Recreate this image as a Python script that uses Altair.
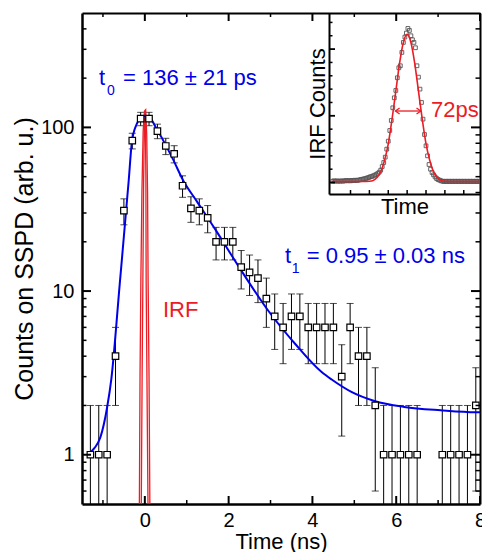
import altair as alt
import pandas as pd

# ---------------- main panel data ----------------
time_ns = [-1.3, -1.1, -0.9, -0.7, -0.5, -0.3, -0.1, 0.1, 0.3, 0.5,
           0.7, 0.9, 1.1, 1.3, 1.5, 1.7, 1.9, 2.1, 2.3, 2.5,
           2.7, 2.9, 3.1, 3.3, 3.5, 3.7, 3.9, 4.1, 4.3, 4.5,
           4.7, 4.9, 5.1, 5.3, 5.5, 5.7, 5.9, 6.1, 6.3, 6.5,
           7.1, 7.3, 7.5, 7.7, 7.9]
counts = [1, 1, 1, 4, 31, 83, 113, 113, 95, 77,
          69, 44, 32, 31, 28, 20, 20, 20, 14, 13,
          12, 9, 7, 6, 7, 7, 6, 6, 6, 6,
          3, 6, 4, 4, 2, 1, 1, 1, 1, 1,
          1, 1, 1, 1, 2]
count_err = [1, 1, 1, 2, 5.6, 9.1, 10.6, 10.6, 9.7, 8.8,
             8.3, 6.6, 5.7, 5.6, 5.3, 4.5, 4.5, 4.5, 3.7, 3.6,
             3.5, 3.0, 2.6, 2.4, 2.6, 2.6, 2.4, 2.4, 2.4, 2.4,
             1.7, 2.4, 2.0, 2.0, 1.4, 1, 1, 1, 1, 1,
             1, 1, 1, 1, 1.4]

fit_t = [-1.29, -1.2, -1.06, -0.9, -0.8, -0.6, -0.385, -0.31, -0.2, -0.1,
         0.0, 0.087, 0.28, 0.48, 0.67, 0.915, 1.23, 1.7, 2.25, 2.96,
         3.59, 4.22, 4.46, 4.93, 5.48, 6.19, 7.06, 7.9, 8.0]
fit_counts = [1.04, 1.1, 1.28, 1.95, 2.9, 11, 47.4, 81, 104, 114,
              118, 117, 98, 79.6, 64, 47.4, 35.7, 23.4, 14, 7.5,
              4.75, 3.2, 2.88, 2.42, 2.13, 1.96, 1.87, 1.82, 1.82]

irf_a_t = [-0.13, -0.115, -0.095, -0.07, -0.04, -0.01, 0.02, 0.045, 0.065, 0.078, 0.10, 0.12]
irf_a_v = [0.5, 3, 11.6, 40, 95, 125, 128, 90, 40, 11.6, 3, 0.5]
irf_b_t = [-0.085, -0.065, -0.047, -0.03, -0.01, 0.01, 0.025, 0.031, 0.05, 0.075]
irf_b_v = [0.5, 3, 11.6, 45, 110, 128, 50, 11.6, 3, 0.5]

y_major = [1, 10, 100]
y_minor = [0.6, 0.7, 0.8, 0.9, 2, 3, 4, 5, 6, 7, 8, 9,
           20, 30, 40, 50, 60, 70, 80, 90, 200, 300, 400]
x_major = [0, 2, 4, 6, 8]
x_minor = [-1, 1, 3, 5, 7]

# ---------------- inset data ----------------
inset_t = list(range(-198, 199, 4))
inset_counts = [0.02, 0.025, 0.02, 0.025, 0.02, 0.02, 0.025, 0.02, 0.025, 0.03,
                0.025, 0.03, 0.025, 0.03, 0.03, 0.035, 0.03, 0.035,
                0.04, 0.045, 0.05, 0.055, 0.06, 0.068, 0.075, 0.085, 0.09, 0.10,
                0.11, 0.12, 0.135, 0.155, 0.185, 0.24, 0.30, 0.38, 0.50, 0.62,
                0.78, 0.93, 1.12, 1.27, 1.38, 1.57, 1.72, 1.75, 1.95, 2.10,
                2.18, 2.24, 2.31, 2.28, 2.20, 2.14, 2.10, 2.02, 1.75, 1.58,
                1.40, 1.20, 0.95, 0.72, 0.55, 0.40, 0.27, 0.20, 0.15, 0.115,
                0.085, 0.06, 0.045, 0.035, 0.025, 0.02,
                0.015, 0.02, 0.015, 0.02, 0.015, 0.02, 0.015, 0.02, 0.015, 0.02,
                0.015, 0.02, 0.015, 0.02, 0.015, 0.02, 0.015, 0.02, 0.015, 0.02,
                0.015, 0.02, 0.015, 0.02, 0.015, 0.02]
inset_fit_t = [-200, -150, -120, -100, -90, -80, -70, -60, -50, -40, -30, -20, -10, 0,
               10, 20, 30, 40, 50, 60, 70, 80, 90, 100, 120, 150, 200]
inset_fit_v = [0.015, 0.015, 0.016, 0.02, 0.03, 0.075, 0.16, 0.33, 0.58, 0.95, 1.37, 1.79, 2.10, 2.22,
               2.10, 1.79, 1.37, 0.95, 0.58, 0.33, 0.16, 0.075, 0.03, 0.02, 0.016, 0.015, 0.015]
inset_x_ticks = [-150, -100, -50, 0, 50, 100, 150]
inset_y_major = [0, 1, 2]
inset_y_minor = [0.2, 0.4, 0.6, 0.8, 1.2, 1.4, 1.6, 1.8, 2.2, 2.4]

# ---------------- layout ----------------
PAD_L, PAD_T, PAD_R, PAD_B = 74, 5, 2, 48
W, H = 398, 491
FONT = "Liberation Sans"
BLUE = "#0000e8"
RED = "#ec1c24"
INSET_X = [247, 398]
INSET_Y = [181, 0]

xs = alt.Scale(domain=[-1.5, 8], nice=False, zero=False)
ys = alt.Scale(type="log", domain=[0.5, 500], nice=False)

df = pd.DataFrame({"t": time_ns, "n": counts, "err": count_err})
df["lo"] = (df["n"] - df["err"]).clip(lower=0.3)
df["hi"] = df["n"] + df["err"]

fit_df = pd.DataFrame({"t": fit_t, "v": fit_counts})
irf_df = pd.concat([
    pd.DataFrame({"t": irf_a_t, "v": irf_a_v, "c": "a"}),
    pd.DataFrame({"t": irf_b_t, "v": irf_b_v, "c": "b"}),
])


def border_axis(orient, offset):
    return alt.Axis(orient=orient, offset=offset, labels=False, title=None,
                    ticks=False, domain=True, domainWidth=2, domainColor="black",
                    grid=False)


def xticks(values, scale, y0, y1, width):
    return alt.Chart(pd.DataFrame({"v": values})).mark_rule(
        color="black", strokeWidth=width).encode(
        x=alt.X("v:Q", scale=scale, axis=None), y=alt.value(y0), y2=alt.value(y1))


def yticks(values, scale, x0, x1, width):
    return alt.Chart(pd.DataFrame({"v": values})).mark_rule(
        color="black", strokeWidth=width).encode(
        y=alt.Y("v:Q", scale=scale, axis=None), x=alt.value(x0), x2=alt.value(x1))


bars = alt.Chart(df).mark_rule(color="black", strokeWidth=1, clip=True).encode(
    x=alt.X("t:Q", scale=xs, axis=None),
    y=alt.Y("lo:Q", scale=ys, axis=None),
    y2="hi:Q",
)
cap_hi = alt.Chart(df).mark_tick(color="black", orient="horizontal", size=7,
                                 thickness=1, clip=True).encode(
    x=alt.X("t:Q", scale=xs, axis=None), y=alt.Y("hi:Q", scale=ys, axis=None))
cap_lo = alt.Chart(df).mark_tick(color="black", orient="horizontal", size=7,
                                 thickness=1, clip=True).encode(
    x=alt.X("t:Q", scale=xs, axis=None), y=alt.Y("lo:Q", scale=ys, axis=None))

irf = alt.Chart(irf_df).mark_line(color=RED, strokeWidth=1.3, clip=True).encode(
    x=alt.X("t:Q", scale=xs, axis=None),
    y=alt.Y("v:Q", scale=ys, axis=None),
    detail="c:N",
)

fit = alt.Chart(fit_df).mark_line(color=BLUE, strokeWidth=2, interpolate="monotone",
                                  clip=True).encode(
    x=alt.X("t:Q", scale=xs, axis=None),
    y=alt.Y("v:Q", scale=ys, axis=None),
)

squares = alt.Chart(df).mark_point(shape="square", filled=True, fill="white",
                                   stroke="black", strokeWidth=1.2, size=42,
                                   opacity=1, clip=True).encode(
    x=alt.X("t:Q", scale=xs, axis=alt.Axis(
        orient="bottom", values=x_major, ticks=False, domain=True, domainWidth=2.5,
        domainColor="black", labelFontSize=20, labelFont=FONT, labelColor="black",
        labelPadding=6, labelFlush=False, title="Time (ns)", titleFont=FONT,
        titleFontSize=22, titleFontWeight="normal", titleColor="black",
        titleBaseline="alphabetic", titleY=44, grid=False)),
    y=alt.Y("n:Q", scale=ys, axis=alt.Axis(
        orient="left", values=y_major, format="d", ticks=False, domain=True,
        domainWidth=2.5, domainColor="black", labelFontSize=20, labelFont=FONT,
        labelColor="black", labelPadding=8, title="Counts on SSPD (arb. u.)",
        titleFont=FONT, titleFontSize=25, titleFontWeight="normal",
        titleColor="black", titlePadding=3, grid=False)),
)

borders = alt.Chart(df).mark_point(opacity=0).encode(
    x=alt.X("t:Q", scale=xs, axis=border_axis("bottom", -H)),
    y=alt.Y("n:Q", scale=ys, axis=border_axis("left", -W)),
)

tick_layers = [
    xticks(x_major, xs, H, H - 8, 2), xticks(x_minor, xs, H, H - 4, 1.5),
    xticks(x_major, xs, 0, 8, 2), xticks(x_minor, xs, 0, 4, 1.5),
    yticks(y_major, ys, 0, 9, 2), yticks(y_minor, ys, 0, 4.5, 1.5),
    yticks(y_major, ys, W, W - 9, 2), yticks(y_minor, ys, W, W - 4.5, 1.5),
]

ann_df = pd.DataFrame({
    "t": [-1.094, -0.903, -0.521, 3.345, 3.505, 3.863, 0.433],
    "v": [181.6, 157.8, 181.6, 14.8, 12.9, 14.8, 6.97],
    "s": ["t", "0", "= 136 ± 21 ps", "t", "1", "= 0.95 ± 0.03 ns", "IRF"],
    "fs": [22, 14, 22, 22, 14, 22, 22],
    "col": ["b", "b", "b", "b", "b", "b", "r"],
})
ann = alt.Chart(ann_df).mark_text(align="left", baseline="alphabetic", font=FONT).encode(
    x=alt.X("t:Q", scale=xs, axis=None),
    y=alt.Y("v:Q", scale=ys, axis=None),
    text="s:N",
    size=alt.Size("fs:Q", scale=None, legend=None),
    color=alt.Color("col:N", scale=alt.Scale(domain=["b", "r"], range=[BLUE, RED]),
                    legend=None),
)

main = alt.layer(bars, cap_hi, cap_lo, irf, fit, squares, borders, *tick_layers,
                 ann).resolve_axis(x="independent", y="independent")

# ---------------- inset ----------------
ixs = alt.Scale(domain=[-207, 193], range=INSET_X, nice=False, zero=False)
iys = alt.Scale(domain=[-0.172, 2.541], range=INSET_Y, nice=False, zero=False)

idf = pd.DataFrame({"t": inset_t, "v": inset_counts})
ifit = pd.DataFrame({"t": inset_fit_t, "v": inset_fit_v})

i_pts = alt.Chart(idf).mark_point(shape="square", filled=False, stroke="#555555",
                                  strokeWidth=0.9, size=14, opacity=1, clip=True).encode(
    x=alt.X("t:Q", scale=ixs, axis=alt.Axis(
        orient="bottom", offset=-310, labels=False, ticks=False, domain=True,
        domainWidth=2, domainColor="black", title="Time", titleFont=FONT,
        titleFontSize=22, titleFontWeight="normal", titleColor="black",
        titlePadding=2, grid=False)),
    y=alt.Y("v:Q", scale=iys, axis=alt.Axis(
        orient="left", offset=-(INSET_X[0]), labels=False, ticks=False, domain=True,
        domainWidth=2, domainColor="black", title="IRF Counts", titleFont=FONT,
        titleFontSize=22, titleFontWeight="normal", titleColor="black",
        titlePadding=0, grid=False)),
)
i_fit = alt.Chart(ifit).mark_line(color=RED, strokeWidth=1.6, interpolate="monotone",
                                  clip=True).encode(
    x=alt.X("t:Q", scale=ixs, axis=None),
    y=alt.Y("v:Q", scale=iys, axis=None),
)
i_ticks = [
    xticks(inset_x_ticks, ixs, INSET_Y[0], INSET_Y[0] - 4, 1.5),
    yticks(inset_y_major, iys, INSET_X[0], INSET_X[0] + 6, 1.8),
    yticks(inset_y_minor, iys, INSET_X[0], INSET_X[0] + 3.5, 1.5),
]

arrow_df = pd.DataFrame({"t": [-31.0, 36.0], "v": [1.072, 1.072]})
i_arrow = alt.Chart(arrow_df).mark_line(color=RED, strokeWidth=1.3).encode(
    x=alt.X("t:Q", scale=ixs, axis=None), y=alt.Y("v:Q", scale=iys, axis=None))
head_l = alt.Chart(arrow_df.iloc[[0]]).mark_point(
    shape="M 1 -0.7 L 0 0 L 1 0.7", filled=False, stroke=RED, strokeWidth=1.3,
    size=70, opacity=1).encode(
    x=alt.X("t:Q", scale=ixs, axis=None), y=alt.Y("v:Q", scale=iys, axis=None))
head_r = alt.Chart(arrow_df.iloc[[1]]).mark_point(
    shape="M -1 -0.7 L 0 0 L -1 0.7", filled=False, stroke=RED, strokeWidth=1.3,
    size=70, opacity=1).encode(
    x=alt.X("t:Q", scale=ixs, axis=None), y=alt.Y("v:Q", scale=iys, axis=None))

lab_df = pd.DataFrame({"t": [63.0], "v": [0.986], "s": ["72ps"]})
i_lab = alt.Chart(lab_df).mark_text(align="left", baseline="alphabetic", font=FONT,
                                    fontSize=22, color=RED).encode(
    x=alt.X("t:Q", scale=ixs, axis=None), y=alt.Y("v:Q", scale=iys, axis=None),
    text="s:N")

inset = alt.layer(i_pts, i_fit, *i_ticks, i_arrow, head_l, head_r, i_lab).resolve_axis(
    x="independent", y="independent")

chart = alt.layer(main, inset).resolve_scale(
    x="independent", y="independent").resolve_axis(
    x="independent", y="independent").properties(
    width=W, height=H, autosize=alt.AutoSizeParams(type="none"),
    padding={"left": PAD_L, "top": PAD_T, "right": PAD_R, "bottom": PAD_B},
).configure_view(stroke=None).configure_axis(grid=False)

chart.save("out.html", embed_options={"renderer": "svg", "actions": False})
